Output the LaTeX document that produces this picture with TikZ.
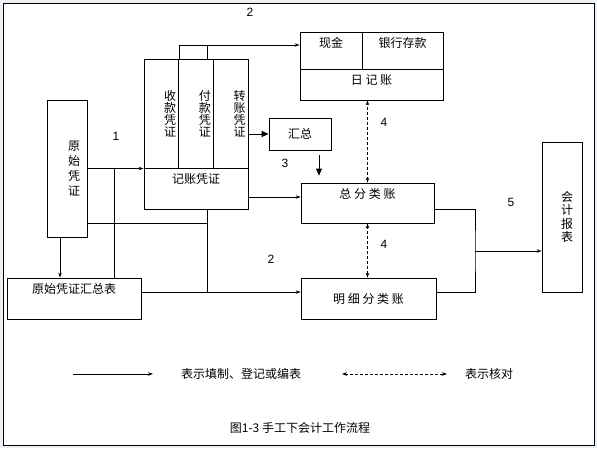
\documentclass[tikz,border=0pt]{standalone}
\usepackage{fontspec}
\setmainfont{Liberation Sans}
\newfontfamily\cjk{Noto Sans CJK SC}
\usepackage{xcolor}
\definecolor{pagegray}{RGB}{236,239,244}
\usetikzlibrary{arrows.meta}

\begin{document}
\begin{tikzpicture}[x=1pt,y=-1pt,line width=0.8pt,
  box/.style={draw,font=\cjk\fontsize{12}{14}\selectfont,inner sep=0pt},
  tbox/.style={box,inner ysep=5pt,text height=10pt,text depth=#1},
  vbox/.style={draw,font=\cjk\fontsize{12}{12}\selectfont,align=right,inner ysep=0pt},
  num/.style={font=\fontsize{12}{14}\selectfont},
  txt/.style={font=\cjk\fontsize{12}{14}\selectfont},
  flow/.style={-{Stealth[length=5pt,width=3.5pt]}},
  big/.style={-{Triangle[length=7pt,width=6pt]}},
  check/.style={{Stealth[length=5pt,width=3.5pt]}-{Stealth[length=5pt,width=3.5pt]},dash pattern=on 3pt off 2pt}
]
  \useasboundingbox (0,0) rectangle (597,448);
  \fill[pagegray] (0,0) rectangle (597,448);
  \draw[fill=white] (3,3) rectangle (594,445);

  % Vouchers
  \node[vbox,text width=26pt,inner xsep=7pt,minimum height=137pt,font=\cjk\fontsize{12}{15}\selectfont] (yz) at (67,168.5) {原\\始\\凭\\证};
  \node[vbox,text width=29.67pt,inner xsep=2.5pt,minimum height=109pt] (sk) at (161.33,113.5) {收\\款\\凭\\证};
  \node[vbox,text width=29.67pt,inner xsep=2.5pt,minimum height=109pt] (fk) at (196,113.5) {付\\款\\凭\\证};
  \node[vbox,text width=29.67pt,inner xsep=2.5pt,minimum height=109pt] (zz) at (230.67,113.5) {转\\账\\凭\\证};
  \node[tbox=21pt,minimum width=104pt] (jz) at (196,188.5) {记账凭证};
  \node[tbox=21pt,minimum width=134pt] (hzb) at (74,298.5) {原始凭证汇总表};

  % Journals and ledgers
  \node[tbox=17pt,minimum width=62pt] (xj) at (331,50.5) {现金};
  \node[tbox=17pt,minimum width=81pt] (yh) at (402.5,50.5) {银行存款};
  \node[tbox=11pt,minimum width=143pt] (rj) at (371.5,84.5) {日 记 账};
  \node[box,minimum width=62pt,minimum height=32pt] (hz) at (300,134) {汇总};
  \node[tbox=20pt,minimum width=133pt] (zf) at (367.5,203) {总 分 类 账};
  \node[box,minimum width=135pt,minimum height=41pt] (mx) at (368.5,298.5) {明 细 分 类 账};
  \node[vbox,text width=22pt,inner xsep=9pt,minimum height=150pt,font=\cjk\fontsize{12}{13.5}\selectfont] (kb) at (562,217) {会\\计\\报\\表};

  % Step numbers
  \node[num] (n1) at (116,136) {1};
  \node[num] (n2a) at (250,12) {2};
  \node[num] (n2b) at (271,259) {2};
  \node[num] (n3) at (285,163) {3};
  \node[num] (n4a) at (384,122) {4};
  \node[num] (n4b) at (384,244) {4};
  \node[num] (n5) at (511,202) {5};

  % Flows
  \draw[flow] (sk.north east) |- ([yshift=5.5pt]xj.west);
  \draw ([xshift=11pt]fk.north) -- ++(0,-14);
  \draw[big] (hz.west -| zz.east) -- (hz.west);
  \draw[big,shorten <=5pt,shorten >=7pt] ([xshift=19pt]hz.south) -- ([xshift=19pt]hz.south |- zf.north);
  \draw[flow] ([yshift=-8.5pt]jz.east) -- ([yshift=-8.5pt]jz.east -| zf.west);
  \draw[flow] (yz.east) -- (yz.east -| jz.west);
  \draw ([xshift=40pt]hzb.north) -- ([xshift=40pt]hzb.north |- yz.east);
  \draw ([yshift=-54.5pt]yz.east) -- ++(120,0);
  \draw ([xshift=11pt]jz.south) -- ++(0,83);
  \draw[flow] ([yshift=6.5pt]hzb.east) -- ([yshift=6.5pt]hzb.east -| mx.west);
  \draw[flow] ([xshift=-7pt]yz.south) -- ([xshift=-7pt]yz.south |- hzb.north);

  % Checks
  \draw[check] (zf.north) -- (zf.north |- rj.south);
  \draw[check] (zf.south) -- (zf.south |- mx.north);

  % Reports
  \coordinate (m5) at (475,251);
  \draw ([yshift=-6pt]zf.east) -| (m5) |- ([yshift=6.5pt]mx.east);
  \draw[flow] (m5) -- (m5 -| kb.west);

  % Legend
  \coordinate (la1) at (73,374);
  \coordinate (la2) at (153,374);
  \coordinate (lb1) at (342,374);
  \coordinate (lb2) at (447,374);
  \draw[flow] (la1) -- (la2);
  \draw[check] (lb1) -- (lb2);
  \node[txt] (lt1) at (241,374) {表示填制、登记或编表};
  \node[txt] (lt2) at (489,374) {表示核对};

  \node[txt] (cap) at (300,428) {图1-3 手工下会计工作流程};
\end{tikzpicture}
\end{document}
